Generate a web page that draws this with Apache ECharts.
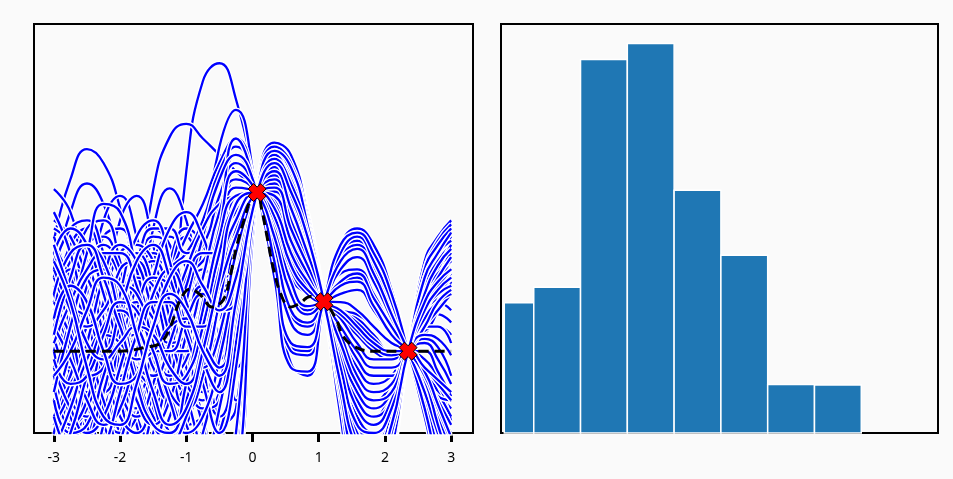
<!DOCTYPE html>
<html>
<head>
<meta charset="utf-8">
<script src="https://cdn.jsdelivr.net/npm/echarts@6/dist/echarts.min.js"></script>
<style>
  html, body { margin: 0; padding: 0; background: #fafafa; }
  #chart { width: 953px; height: 479px; }
</style>
</head>
<body>
<div id="chart"></div>
<script>
// ---- Left panel: posterior sample paths, their mean and the observations ----
const sampleX = [-3, -2.75, -2.5, -2.25, -2, -1.75, -1.5, -1.25, -1, -0.75, -0.5, -0.25,
                 0.07, 0.33, 0.58, 0.83, 1.08, 1.33, 1.58, 1.83, 2.1, 2.35, 2.6, 2.8, 3];

const samplePaths = [
  [-0.5,0.2,0.6,0.3,-0.5,-1.0,-0.8,0.1,2.2,3.3,3.52,3.08, 1.94, 0.9,-0.15,-0.3, 0.605, 1.3,1.5,1.3,0.75, 0, -0.8,-1.5,-2.1],
  [0.8,0.5,-0.2,-0.6,-0.3,0.6,1.97,2.62,2.78,2.6,2.4,2.2, 1.94, 1.5,0.9,0.7, 0.605, 0.2,-0.5,-0.6,-0.4, 0, 0.4,0.6,0.5],
  [0.3,-0.4,-0.9,-0.5,0.4,1.0,0.7,-0.1,0.5,1.3,2.5,2.95, 1.94, 1.0,0.05,-0.05, 0.605, 1.2,1.35,1.0,0.5, 0, -0.6,-1.2,-1.7],
  [1.35,2.1,2.47,2.3,1.75,0.9,0.0,-0.5,-0.4,0.1,0.4,0.8, 1.94, 2.2,1.8,1.25, 0.605, -0.3,-1.0,-1.1,-0.7, 0, 0.5,0.8,1.0],
  [0.9,1.7,2.05,1.8,1.1,0.3,-0.3,-0.2,0.4,1.0,1.3,1.5, 1.94, 1.95,1.5,1.05, 0.605, 0.3,-0.2,-0.4,-0.3, 0, 0.35,0.45,0.35],
  [1.98,1.7,0.9,0.0,-0.6,-0.5,0.2,0.9,1.1,0.7,0.0,0.2, 1.94, 2.35,2.0,1.4, 0.605, -0.5,-1.4,-1.5,-1.0, 0, 0.8,1.1,1.3],
  [-0.6,-0.2,0.6,1.6,1.9,1.4,0.5,-0.4,-0.9,-0.8,-0.5,0.3, 1.94, 2.55,2.4,1.65, 0.605, -0.7,-1.8,-2.0,-1.2, 0, 1.1,1.4,1.6],
  [0.2,-0.5,-0.4,0.5,1.6,1.9,1.3,0.3,-0.3,-0.2,0.5,1.3, 1.94, 1.85,1.35,0.95, 0.605, 0.5,0.3,0.0,-0.1, 0, -0.2,-0.5,-0.7],
  [-1.1,-0.6,0.2,0.5,0.1,0.3,1.5,1.99,1.6,0.8,0.6,1.4, 1.94, 1.85,1.3,0.95, 0.605, 0.3,0.0,-0.2,-0.2, 0, 0.2,0.5,0.85],
  [-1.4,-0.8,0.1,0.8,0.9,0.4,-0.2,-0.5,-0.1,0.7,1.4,1.7, 1.94, 2.05,1.6,1.15, 0.605, 0.0,-0.6,-0.8,-0.6, 0, 0.4,0.65,0.75],
  [0.5,1.1,1.2,0.7,-0.1,-0.8,-1.1,-0.8,0.0,0.9,1.8,2.3, 1.94, 1.25,0.45,0.3, 0.605, 0.95,1.0,0.7,0.3, 0, -0.3,-0.7,-1.0],
  [-0.3,-1.0,-1.5,-1.3,-0.6,0.3,1.1,1.4,1.0,0.2,-0.9,-1.2, 1.94, 2.5,2.3,1.6, 0.605, -0.6,-1.7,-1.9,-1.1, 0, 0.9,1.3,1.5],
  [1.2,0.6,-0.1,-0.4,0.0,0.8,1.4,1.3,0.6,-0.2,-0.9,-0.7, 1.94, 2.55,2.35,1.6, 0.605, -0.7,-1.9,-2.1,-1.3, 0, 1.0,1.35,1.55],
  [-0.9,-0.2,0.7,1.4,1.5,0.9,0.1,-0.6,-1.1,-1.3,-1.0,0.0, 1.94, 2.5,2.4,1.7, 0.605, -0.5,-1.6,-1.8,-1.1, 0, 0.8,1.2,1.45],
  [0.0,0.7,1.3,1.4,0.9,0.2,-0.4,-0.6,-0.2,0.4,0.9,1.6, 1.94, 1.95,1.45,1.0, 0.605, 0.2,-0.2,-0.4,-0.3, 0, -0.1,-0.4,-0.85],
  [1.5,1.3,0.6,-0.3,-1.0,-1.2,-0.7,0.2,1.0,1.5,1.9,2.2, 1.94, 1.45,0.75,0.5, 0.605, 0.8,0.9,0.6,0.3, 0, -0.2,-0.5,-0.8],
  [-1.6,-1.2,-0.4,0.4,0.7,0.4,-0.1,-0.3,0.1,0.5,0.2,-0.6, 1.94, 2.4,2.1,1.45, 0.605, -0.4,-1.2,-1.4,-0.9, 0, 0.6,0.9,1.1],
  [0.8,0.2,-0.6,-1.1,-1.0,-0.3,0.6,1.2,1.2,0.6,-0.2,-0.2, 1.94, 2.55,2.3,1.55, 0.605, -0.8,-1.9,-2.2,-1.4, 0, 0.7,1.1,1.4],
  [-0.2,0.5,0.9,0.7,0.0,-0.9,-1.4,-1.2,-0.5,0.3,1.0,1.5, 1.94, 2.0,1.55,1.1, 0.605, 0.1,-0.5,-0.7,-0.5, 0, 0.25,0.3,0.2],
  [1.1,1.4,1.1,0.4,-0.3,-0.7,-0.5,0.1,0.8,1.4,1.5,1.2, 1.94, 2.2,1.75,1.2, 0.605, -0.2,-0.9,-1.1,-0.7, 0, 0.5,0.7,0.9],
  [-1.0,-1.5,-1.6,-1.0,-0.2,0.6,0.9,0.6,-0.1,-0.8,-1.5,-1.3, 1.94, 2.5,2.35,1.65, 0.605, -0.6,-1.7,-1.9,-1.2, 0, 0.9,1.25,1.45],
  [0.4,-0.3,-0.8,-0.7,0.1,1.0,1.5,1.3,0.7,0.5,1.1,2.0, 1.94, 1.8,1.3,0.95, 0.605, 0.4,0.2,0.0,-0.1, 0, -0.3,-0.55,-0.6],
  [-0.5,0.1,0.4,0.1,-0.6,-1.3,-1.6,-1.2,-0.3,0.6,1.6,2.4, 1.94, 1.2,0.35,0.2, 0.605, 1.0,1.15,0.85,0.4, 0, -0.4,-0.8,-1.2],
  [0.6,1.3,1.5,1.0,0.3,0.0,0.4,1.1,1.5,1.3,0.8,0.7, 1.94, 2.3,1.95,1.35, 0.605, -0.3,-1.1,-1.3,-0.8, 0, 0.6,0.9,1.2],
  [-1.3,-1.5,-1.1,-0.3,0.5,1.0,0.9,0.2,-0.6,-1.2,-2.0,-1.6, 1.94, 2.55,2.4,1.7, 0.605, -0.7,-1.8,-2.0,-1.3, 0, 1.0,1.3,1.5],
  [0.2,-0.2,-0.1,0.6,1.2,1.3,0.8,0.0,-0.5,-0.3,0.6,1.9, 1.94, 1.9,1.4,1.0, 0.605, 0.3,0.0,-0.2,-0.2, 0, 0.15,0.05,-0.3],
  [1.4,0.8,0.0,-0.7,-1.0,-0.8,0.0,0.9,1.4,1.2,1.3,2.1, 1.94, 1.5,0.85,0.55, 0.605, 0.7,0.75,0.5,0.2, 0, -0.2,-0.4,-0.6],
  [-0.7,0.0,0.8,1.2,0.9,0.1,-0.7,-1.1,-0.9,-0.2,0.2,0.4, 1.94, 2.4,2.15,1.5, 0.605, -0.5,-1.5,-1.6,-1.0, 0, 0.7,1.0,1.2],
  [0.9,0.3,-0.4,-0.9,-1.3,-1.4,-1.0,-0.2,0.6,1.0,0.7,0.5, 1.94, 2.35,2.0,1.4, 0.605, -0.4,-1.3,-1.5,-1.0, 0, 0.7,1.0,1.25],
  [-0.4,-1.1,-1.4,-0.9,0.0,0.8,1.2,1.0,0.5,0.4,1.0,1.8, 1.94, 1.9,1.4,1.05, 0.605, 0.2,-0.3,-0.5,-0.4, 0, 0.45,0.75,0.95],
  [0.3,0.9,1.5,1.6,1.1,0.3,-0.5,-1.0,-1.2,-1.4,-2.2,-1.3, 1.94, 2.5,2.35,1.6, 0.605, -0.6,-1.8,-2.0,-1.2, 0, 0.9,1.2,1.4],
  [-1.2,-0.5,0.0,0.0,-0.4,-0.5,0.1,0.9,1.4,1.8,2.3,2.6, 1.94, 1.05,0.05,0.0, 0.605, 1.15,1.3,1.0,0.5, 0, -0.5,-1.1,-1.6],
  [1.6,1.4,0.9,0.3,0.0,0.2,0.6,0.5,-0.2,-0.9,-1.6,-1.1, 1.94, 2.5,2.3,1.6, 0.605, -0.7,-1.9,-2.0,-1.2, 0, 0.8,1.15,1.35],
  [-0.1,-0.8,-1.2,-1.4,-1.1,-0.3,0.5,1.0,1.2,1.6,2.2,2.5, 1.94, 1.05,0.0,-0.05, 0.605, 1.2,1.4,1.1,0.6, 0, -0.6,-1.2,-1.8],
  [0.5,0.0,-0.9,-1.5,-1.3,-0.4,0.4,0.7,0.3,-0.4,-0.8,0.1, 1.94, 2.45,2.2,1.55, 0.605, -0.5,-1.5,-1.7,-1.1, 0, 0.8,1.1,1.3],
  [-1.8,-1.3,-0.6,0.1,0.6,1.1,1.5,1.5,1.2,1.3,1.9,2.3, 1.94, 1.3,0.5,0.35, 0.605, 0.85,0.95,0.65,0.3, 0, -0.3,-0.6,-0.9],
  [0.1,0.5,0.4,-0.2,-0.8,-1.0,-0.5,0.3,0.9,1.1,1.4,1.7, 1.94, 2.0,1.5,1.1, 0.605, 0.0,-0.6,-0.8,-0.6, 0, 0.55,0.95,1.2],
  [-0.6,-0.9,-0.7,0.0,0.8,1.3,1.1,0.4,-0.5,-1.3,-2.1,-1.8, 1.94, 2.55,2.4,1.65, 0.605, -0.8,-2.0,-2.2,-1.3, 0, 0.9,1.2,1.35],
  [1.0,1.5,1.6,1.2,0.5,-0.2,-0.4,0.0,0.5,0.4,-0.1,0.6, 1.94, 2.25,1.8,1.25, 0.605, -0.2,-0.8,-1.0,-0.7, 0, 0.4,0.6,0.8],
  [-0.8,-0.3,0.3,0.5,0.2,-0.3,-0.8,-1.0,-0.6,0.2,1.2,2.0, 1.94, 1.7,1.2,0.85, 0.605, 0.5,0.4,0.2,0.0, 0, -0.2,-0.4,-0.6],
  [0.7,0.1,-0.5,-0.5,0.2,0.9,1.1,0.6,-0.2,-0.7,-0.6,0.5, 1.94, 2.4,2.05,1.45, 0.605, -0.4,-1.3,-1.4,-0.9, 0, 0.6,0.9,1.1],
  [-1.5,-1.7,-1.2,-0.5,0.1,0.2,-0.2,-0.6,-0.4,0.4,1.5,2.6, 1.94, 0.9,-0.2,-0.25, 0.605, 1.3,1.45,1.2,0.7, 0, -0.7,-1.4,-2.0],
  [1.3,0.9,0.5,0.5,0.9,1.2,0.8,-0.1,-0.9,-1.2,-0.7,0.6, 1.94, 2.35,2.1,1.45, 0.605, -0.5,-1.4,-1.6,-1.0, 0, 0.7,1.0,1.2],
  [-0.2,0.3,1.0,1.3,1.0,0.2,-0.6,-1.2,-1.4,-1.0,0.0,1.1, 1.94, 2.15,1.7,1.2, 0.605, -0.1,-0.7,-0.9,-0.6, 0, 0.35,0.7,1.0],
  [0.0,-0.6,-0.8,-0.2,0.7,1.4,1.6,1.1,0.2,-0.5,-0.4,1.0, 1.94, 2.2,1.8,1.25, 0.605, -0.2,-0.9,-1.1,-0.8, 0, 0.5,0.8,1.0],
  [-1.0,-0.4,-0.2,-0.6,-1.3,-1.7,-1.3,-0.4,0.6,1.4,2.1,2.4, 1.94, 1.1,0.1,0.05, 0.605, 1.1,1.25,0.95,0.45, 0, -0.5,-1.0,-1.4],
  [0.4,1.0,0.9,0.2,-0.5,-0.8,-0.4,0.4,1.0,1.5,1.8,1.9, 1.94, 1.75,1.15,0.8, 0.605, 0.5,0.45,0.3,0.1, 0, -0.35,-0.9,-1.4],
  [-0.4,-0.9,-0.6,0.2,1.0,1.1,0.4,-0.5,-1.1,-1.6,-1.9,-1.0, 1.94, 2.5,2.3,1.6, 0.605, -0.6,-1.7,-1.9,-1.2, 0, 0.9,1.2,1.45],
  [1.7,1.2,0.4,-0.2,-0.3,0.2,0.9,1.5,1.7,1.4,0.9,1.0, 1.94, 2.1,1.65,1.15, 0.605, 0.0,-0.6,-0.8,-0.5, 0, 0.3,0.3,0.1],
  [-0.3,0.4,1.2,1.8,1.7,1.0,0.2,-0.3,-0.1,0.6,1.3,1.7, 1.94, 1.95,1.45,1.05, 0.605, 0.1,-0.4,-0.6,-0.5, 0, 0.5,0.85,1.1],
  [0.6,0.2,-0.3,-0.2,0.4,0.9,0.8,0.2,-0.4,-0.6,0.0,1.2, 1.94, 2.0,1.4,0.95, 0.605, 0.3,-0.1,-0.3,-0.3, 0, 0.3,0.5,0.7],
  [-0.9,-0.5,0.1,0.9,1.3,1.1,0.5,0.1,0.2,0.9,1.7,2.1, 1.94, 1.6,1.0,0.7, 0.605, 0.6,0.5,0.3,0.1, 0, -0.3,-0.6,-0.9],
  [1.2,1.5,1.3,0.7,0.0,-0.6,-0.9,-0.6,0.2,0.8,0.8,0.9, 1.94, 2.25,1.85,1.3, 0.605, -0.3,-1.0,-1.2,-0.8, 0, 0.6,1.0,1.3],
  [-0.2,-0.7,-1.0,-0.8,-0.2,0.5,0.9,0.8,0.3,-0.4,-1.0,-0.2, 1.94, 2.45,2.25,1.55, 0.605, -0.5,-1.4,-1.6,-1.0, 0, 0.7,0.95,1.1],
  [0.1,0.6,1.0,1.2,1.2,0.8,0.1,-0.5,-0.7,-0.3,0.6,1.5, 1.94, 1.85,1.3,0.9, 0.605, 0.4,0.1,-0.1,-0.1, 0, -0.1,-0.3,-0.5],
  [-0.6,-1.0,-0.9,-0.3,0.3,0.6,0.4,0.0,0.0,0.6,1.5,2.2, 1.94, 1.4,0.7,0.45, 0.605, 0.8,0.85,0.55,0.2, 0, -0.3,-0.7,-1.1],
  [0.9,0.5,0.3,0.5,0.8,0.7,0.1,-0.6,-1.0,-0.8,-0.1,0.9, 1.94, 2.15,1.7,1.15, 0.605, -0.1,-0.6,-0.8,-0.6, 0, 0.5,0.7,0.8],
  [-1.2,-0.7,-0.1,0.2,0.1,-0.2,-0.3,0.1,0.8,1.2,1.2,1.4, 1.94, 2.05,1.55,1.1, 0.605, 0.0,-0.5,-0.7,-0.5, 0, 0.0,-0.25,-0.55],
  [0.3,-0.1,-0.6,-0.9,-0.7,0.0,0.7,1.0,0.6,-0.1,-0.5,0.4, 1.94, 2.3,2.0,1.4, 0.605, -0.4,-1.2,-1.3,-0.9, 0, 0.6,0.8,1.0],
  [1.0,0.5,0.0,0.0,0.5,1.1,1.3,0.9,0.2,-0.2,0.2,1.2, 1.94, 2.1,1.6,1.1, 0.605, -0.1,-0.7,-0.9,-0.6, 0, 0.4,0.6,0.7],
  [-0.5,0.3,0.9,1.0,0.5,-0.3,-0.9,-1.1,-0.8,-0.1,0.8,1.6, 1.94, 1.95,1.45,1.0, 0.605, 0.2,-0.3,-0.5,-0.4, 0, 0.1,-0.1,-0.4],
  [0.2,0.9,1.3,1.1,0.4,-0.4,-0.9,-1.0,-0.4,0.5,1.4,1.9, 1.94, 1.65,1.05,0.75, 0.605, 0.5,0.35,0.15,0.0, 0, -0.2,-0.4,-0.6],
  [-1.4,-1.0,-0.3,0.3,0.5,0.3,0.0,0.0,0.4,0.7,0.5,0.6, 1.94, 2.3,1.9,1.35, 0.605, -0.3,-1.1,-1.3,-0.9, 0, 0.6,0.9,1.15],
  [0.7,1.2,1.3,0.9,0.3,-0.1,0.0,0.3,0.4,0.1,-0.2,0.5, 1.94, 2.35,2.05,1.45, 0.605, -0.5,-1.4,-1.5,-1.0, 0, 0.7,1.05,1.25],
  [-0.1,-0.4,-0.3,0.2,0.6,0.5,0.0,-0.4,-0.3,0.3,1.2,1.8, 1.94, 1.8,1.25,0.9, 0.605, 0.45,0.25,0.05,-0.05, 0, -0.25,-0.65,-1.05],
  [1.3,0.7,0.1,-0.1,0.1,0.3,0.2,-0.2,-0.4,0.1,1.0,1.6, 1.94, 1.9,1.35,0.95, 0.605, 0.3,0.0,-0.2,-0.2, 0, 0.3,0.6,0.75],
  [-0.8,-1.3,-1.5,-1.2,-0.5,0.2,0.6,0.6,0.3,0.3,0.8,1.4, 1.94, 2.0,1.5,1.05, 0.605, 0.1,-0.4,-0.6,-0.5, 0, 0.2,0.15,-0.05],
  [0.4,0.8,0.6,0.0,-0.4,-0.3,0.3,0.9,1.1,0.8,0.5,0.9, 1.94, 2.2,1.75,1.2, 0.605, -0.2,-0.9,-1.0,-0.7, 0, 0.5,0.75,0.9],
  [-0.3,0.0,0.5,0.9,0.8,0.2,-0.5,-0.9,-0.7,0.0,0.9,1.8, 1.94, 1.75,1.2,0.85, 0.605, 0.5,0.3,0.1,0.0, 0, -0.2,-0.35,-0.5],
  [1.1,0.6,-0.2,-0.8,-0.9,-0.4,0.3,0.7,0.5,0.0,-0.3,0.6, 1.94, 2.3,1.95,1.4, 0.605, -0.4,-1.2,-1.4,-0.9, 0, 0.6,0.85,1.0]
];

const meanX = [-3, -2.5, -2, -1.6, -1.39, -1.24, -1.09, -0.94, -0.79, -0.61, -0.44, -0.34, -0.24, -0.13, -0.03,
               0.07, 0.14, 0.22, 0.31, 0.44, 0.57, 0.72, 0.87, 1.08, 1.27, 1.37, 1.58, 1.82, 2.35, 3];
const meanY = [0, 0, 0, 0.05, 0.1, 0.3, 0.63, 0.76, 0.69, 0.54, 0.63, 0.91, 1.28, 1.6, 1.85,
               1.94, 1.73, 1.4, 1.03, 0.67, 0.54, 0.59, 0.67, 0.605, 0.38, 0.18, 0.04, 0, 0, 0];

const obsX = [0.07, 1.08, 2.35];
const obsY = [1.94, 0.605, 0];

const tickValues = [-3, -2, -1, 0, 1, 2, 3];

// ---- Right panel: histogram ----
const binEdges = [-0.63, 0, 1, 2, 3, 4, 5, 6, 7];
const binHeights = [2.69, 3.01, 7.71, 8.04, 5.01, 3.67, 1.0, 0.99];

const FONT = 'Noto Sans';
const BLUE = '#0000ff';

// outline of the filled "X" marker, in a 100x100 box
const X_GLYPH = [[0,30],[30,0],[50,20],[70,0],[100,30],[80,50],[100,70],[70,100],[50,80],[30,100],[0,70],[20,50]];
const X_SIZE = 18;

const series = [];
samplePaths.forEach(function (path) {
  const pts = sampleX.map(function (x, i) { return [x, path[i]]; });
  // white halo under each path so crossings stay readable
  series.push({
    type: 'line', xAxisIndex: 0, yAxisIndex: 0, data: pts,
    smooth: 0.5, symbol: 'none', silent: true,
    lineStyle: { color: '#ffffff', width: 5 }
  });
  series.push({
    type: 'line', xAxisIndex: 0, yAxisIndex: 0, data: pts,
    smooth: 0.5, symbol: 'none', silent: true,
    lineStyle: { color: BLUE, width: 2.3 }
  });
});

series.push({
  type: 'line', xAxisIndex: 0, yAxisIndex: 0,
  data: meanX.map(function (x, i) { return [x, meanY[i]]; }),
  smooth: 0.4, symbol: 'none', silent: true,
  lineStyle: { color: '#000000', width: 3, type: [10, 6] }
});

series.push({
  type: 'custom', xAxisIndex: 0, yAxisIndex: 0, z: 10,
  data: obsX.map(function (x, i) { return [x, obsY[i]]; }),
  encode: { x: 0, y: 1 },
  renderItem: function (params, api) {
    const c = api.coord([api.value(0), api.value(1)]);
    const k = X_SIZE / 100;
    return {
      type: 'polygon',
      shape: { points: X_GLYPH.map(function (p) { return [c[0] + (p[0] - 50) * k, c[1] + (p[1] - 50) * k]; }) },
      style: { fill: '#ff0000', stroke: '#000000', lineWidth: 1 }
    };
  }
});

series.push({
  type: 'custom', xAxisIndex: 1, yAxisIndex: 1,
  data: binHeights.map(function (h, i) { return [binEdges[i], binEdges[i + 1], h]; }),
  encode: { x: [0, 1], y: 2 },
  renderItem: function (params, api) {
    const top = api.coord([api.value(0), api.value(2)]);
    const base = api.coord([api.value(1), 0]);
    return {
      type: 'rect',
      shape: { x: top[0], y: top[1], width: base[0] - top[0], height: base[1] - top[1] },
      style: { fill: '#1f77b4', stroke: '#ffffff', lineWidth: 1.5 }
    };
  }
});

const hiddenY = {
  axisLine: { show: false }, axisTick: { show: false },
  axisLabel: { show: false }, splitLine: { show: false }
};

const chart = echarts.init(document.getElementById('chart'), null, { renderer: 'canvas' });
chart.setOption({
  animation: false,
  backgroundColor: '#fafafa',
  grid: [
    { left: 34, top: 24, width: 439, height: 409, show: true, borderColor: '#000', borderWidth: 2, backgroundColor: 'transparent' },
    { left: 501, top: 24, width: 437, height: 409, show: true, borderColor: '#000', borderWidth: 2, backgroundColor: 'transparent' }
  ],
  xAxis: [
    {
      type: 'value', gridIndex: 0, min: -3.3, max: 3.33,
      axisLine: { show: false, onZero: false },
      splitLine: { show: false },
      axisTick: { show: true, customValues: tickValues, length: 9, inside: false,
                  lineStyle: { color: '#000', width: 3 } },
      axisLabel: { show: true, customValues: tickValues, margin: 18,
                   color: '#000', fontFamily: FONT, fontSize: 14 }
    },
    {
      type: 'value', gridIndex: 1, min: -0.7, max: 8.64,
      axisLine: { show: false, onZero: false }, axisTick: { show: false },
      axisLabel: { show: false }, splitLine: { show: false }
    }
  ],
  yAxis: [
    Object.assign({ type: 'value', gridIndex: 0, min: -1, max: 4 }, hiddenY),
    Object.assign({ type: 'value', gridIndex: 1, min: 0, max: 8.44 }, hiddenY)
  ],
  series: series
});
</script>
</body>
</html>
